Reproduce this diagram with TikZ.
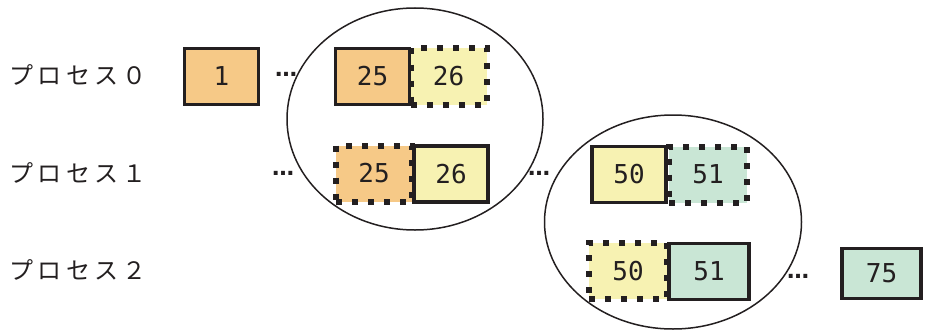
\documentclass[tikz,border=0pt]{standalone}
\usepackage{fontspec}
\newfontfamily\jpfont[LetterSpace=18]{Noto Sans CJK JP}
\newfontfamily\numfont{DejaVu Sans Mono}
\newfontfamily\dotfont{DejaVu Sans Bold}
\usetikzlibrary{shapes.geometric}
\definecolor{ink}{HTML}{231F20}
\definecolor{cellorange}{HTML}{F6C987}
\definecolor{cellyellow}{HTML}{F7F2B2}
\definecolor{cellmint}{HTML}{C9E6D5}
\begin{document}
\begin{tikzpicture}[x=1pt,y=-1pt,
  cell/.style={draw=ink, line width=3.8pt, minimum width=74pt, minimum height=56pt,
    inner sep=0pt, text=ink, font=\numfont\fontsize{26}{26}\selectfont},
  dotcell/.style={cell, line width=6pt, dash pattern=on 6pt off 10pt},
  group/.style={ellipse, draw=ink, line width=1.5pt, inner sep=0pt},
  proc/.style={anchor=west, text=ink, font=\jpfont\fontsize{24}{24}\selectfont},
  gap/.style={text=ink, inner sep=0pt, font=\dotfont\fontsize{22}{22}\selectfont}]
\useasboundingbox (0,0) rectangle (925,329);

% process labels
\node[proc] (p0) at (6,75) {プロセス０};
\node[proc] (p1) at (6,173) {プロセス１};
\node[proc] (p2) at (6,270) {プロセス２};

% overlap groups
\node[group, minimum width=256pt, minimum height=222pt] (g1) at (415,119) {};
\node[group, minimum width=257pt, minimum height=214pt] (g2) at (673,222) {};

% process 0
\node[cell, fill=cellorange] (a1) at (221.5,76.5) {1};
\node[gap] (d0) at (286,74) {…};
\node[cell, fill=cellorange] (a25) at (372.5,76.5) {25};
\node[dotcell, fill=cellyellow, minimum width=76pt] (a26) at (448.5,76.5) {26};

% process 1
\node[gap] (d1) at (283,173) {…};
\node[dotcell, fill=cellorange, minimum width=76pt] (b25) at (374,173.5) {25};
\node[cell, fill=cellyellow] (b26) at (451,174) {26};
\node[gap] (d2) at (539,173) {…};
\node[cell, fill=cellyellow] (b50) at (629,174.5) {50};
\node[dotcell, fill=cellmint, minimum width=78pt] (b51) at (708,174.5) {51};

% process 2
\node[dotcell, fill=cellyellow, minimum width=78pt] (c50) at (628,271) {50};
\node[cell, fill=cellmint, minimum width=80pt] (c51) at (709,271.5) {51};
\node[gap] (d3) at (798,276) {…};
\node[cell, fill=cellmint, minimum width=79pt, minimum height=50pt] (c75) at (881.5,273.5) {75};
\end{tikzpicture}
\end{document}
